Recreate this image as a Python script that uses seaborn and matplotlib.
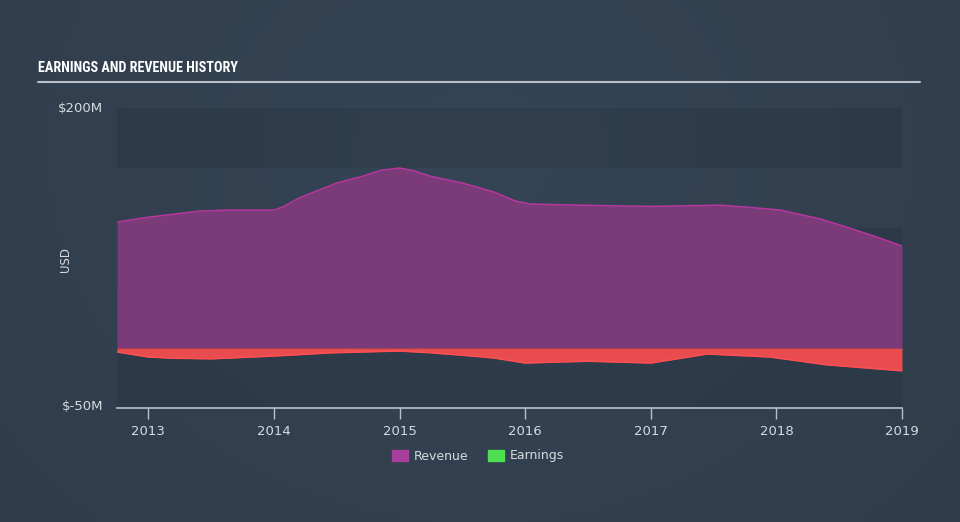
import numpy as np
import pandas as pd
import matplotlib
matplotlib.use("Agg")
import matplotlib.pyplot as plt
import matplotlib.patches as mpatches
from matplotlib import font_manager
import seaborn as sns

# ---- data (USD millions) ----
rev_t = [2012.75, 2013.0, 2013.28, 2013.4, 2013.64, 2014.0, 2014.07, 2014.2, 2014.5,
         2014.7, 2014.85, 2015.0, 2015.12, 2015.25, 2015.5, 2015.75, 2015.92, 2016.04,
         2016.44, 2017.0, 2017.55, 2017.75, 2018.03, 2018.35, 2018.55, 2018.8, 2019.0]
rev_v = [105, 109, 112.5, 114, 115, 115, 117.5, 125, 137.5,
         143, 148, 150, 147.5, 143, 137.5, 130, 122.5, 120,
         119, 118, 119, 117.5, 115, 107.5, 101, 92.5, 85]

earn_t = [2012.75, 2013.0, 2013.2, 2013.5, 2014.0, 2014.45, 2015.0, 2015.25, 2015.5,
          2015.75, 2016.0, 2016.5, 2017.0, 2017.45, 2017.95, 2018.4, 2019.0]
earn_v = [-3.3, -7.5, -8.5, -9, -6.7, -4, -2.5, -4, -6,
          -8.3, -12.5, -11, -12.5, -5, -7.5, -14, -19]

yticks = [-50, 200]
ytick_labels = ["$-50M", "$200M"]
xticks = [2013, 2014, 2015, 2016, 2017, 2018, 2019]
xtick_labels = ["2013", "2014", "2015", "2016", "2017", "2018", "2019"]

rev_df = pd.DataFrame({"t": rev_t, "v": rev_v})
earn_df = pd.DataFrame({"t": earn_t, "v": earn_v})

sns.set_theme(style="dark")
plt.rcParams["font.family"] = ["DejaVu Sans"]

BG = "#323f4e"
fig = plt.figure(figsize=(9.6, 5.22), dpi=100, facecolor=BG)

# soft radial gradient background
bgax = fig.add_axes([0, 0, 1, 1], zorder=-10)
H, W = 522, 960
yy, xx = np.mgrid[0:H, 0:W]
d = np.sqrt(((xx - 480) / 650.0) ** 2 + ((yy - 150) / 560.0) ** 2)
d = np.clip(d, 0, 1)
c_in = np.array([0x35, 0x45, 0x56]) / 255.0
c_out = np.array([0x30, 0x3c, 0x4a]) / 255.0
img = c_in[None, None, :] * (1 - d[..., None]) + c_out[None, None, :] * d[..., None]
bgax.imshow(img, aspect="auto", extent=[0, 1, 0, 1])
bgax.axis("off")

ax = fig.add_axes([117/960, 1-408/522, (902-117)/960, 300/522])
ax.patch.set_alpha(0)

# background bands (subtle darker overlays)
for lo, hi in [(150, 200), (50, 100), (-50, 0)]:
    ax.axhspan(lo, hi, color="#1c2530", alpha=0.2, lw=0, zorder=0)

# revenue
ax.fill_between(rev_df["t"], 0, rev_df["v"], color="#7b3a78", lw=0, zorder=2)
sns.lineplot(data=rev_df, x="t", y="v", ax=ax, color="#b8379f", lw=1.1, zorder=3)
# earnings
ax.fill_between(earn_df["t"], 0, earn_df["v"], color="#e84c4f", lw=0, zorder=2)
sns.lineplot(data=earn_df, x="t", y="v", ax=ax, color="#ff4f52", lw=1.1, zorder=3)

ax.set_xlim(2012.75, 2019.0)
ax.set_ylim(-50, 200)
ax.set_xlabel("")
ax.set_ylabel("")
ax.grid(False)
for s in ["top", "right", "left"]:
    ax.spines[s].set_visible(False)
ax.spines["bottom"].set_color("#b8c2cc")
ax.spines["bottom"].set_linewidth(1.2)

ax.set_xticks(xticks)
ax.set_xticklabels(xtick_labels, color="#d5dbe0", fontsize=9.5)
ax.tick_params(axis="x", length=8, width=1, color="#b8c2cc", pad=4, bottom=True, direction="out")
ax.set_yticks([])

for v, lab in zip(yticks, ytick_labels):
    fig.text(103/960, 1-(108 if v == 200 else 407)/522, lab, ha="right", va="center",
             color="#d5dbe0", fontsize=9.5)

fig.text(66/960, 1-260/522, "USD", rotation=90, ha="center", va="center",
         color="#d5dbe0", fontsize=8.5)

# title (narrowest available bold sans)
names = {f.name for f in font_manager.fontManager.ttflist}
tfam = [n for n in ["Roboto Condensed", "Liberation Sans Narrow", "Liberation Sans"] if n in names]
tfam = tfam[:1] + ["DejaVu Sans"]
fig.text(38/960, 1-68/522, "EARNINGS AND REVENUE HISTORY", ha="left", va="center",
         color="white", fontsize=10.2, fontweight="bold", family=tfam, fontstretch="condensed")
fig.add_artist(plt.Line2D([38/960, 920/960], [1-82/522, 1-82/522],
                          color="#b9c0c8", lw=1.5, transform=fig.transFigure))

# legend
handles = [mpatches.Patch(color="#a83e9e", label="Revenue"),
           mpatches.Patch(color="#4de050", label="Earnings")]
fig.legend(handles=handles, loc="center", bbox_to_anchor=(478/960, 1-456/522), ncol=2,
           frameon=False, fontsize=9, labelcolor="#d5dbe0", handlelength=1.3,
           handleheight=1.0, columnspacing=1.5, handletextpad=0.5)

fig.savefig("out.png", dpi=100, facecolor=BG)
